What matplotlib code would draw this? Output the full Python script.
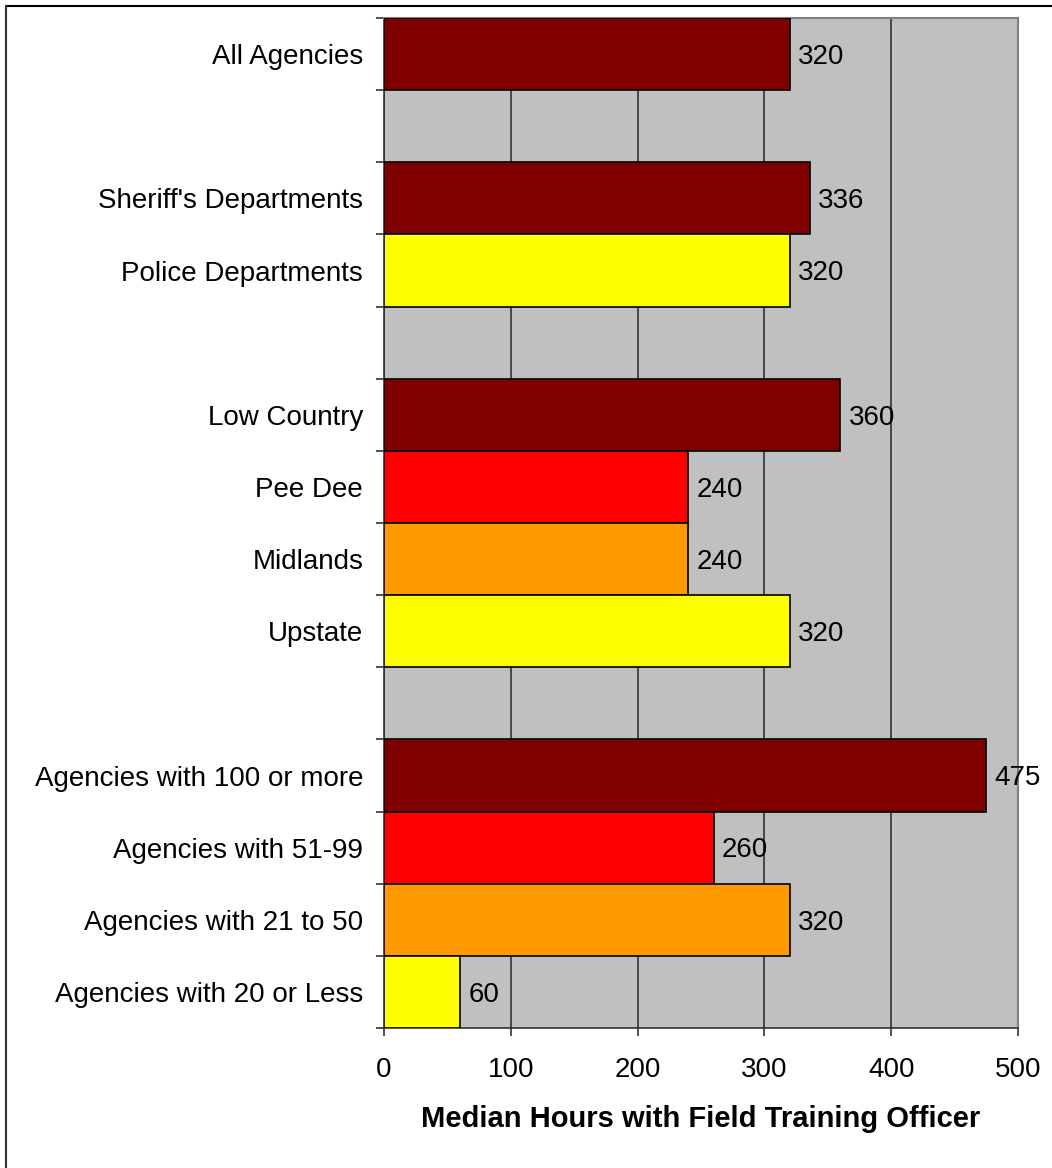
import matplotlib.pyplot as plt
import matplotlib.lines as mlines

plt.rcParams['font.family'] = ['Liberation Sans', 'DejaVu Sans']

# groups of rows, a blank row is left between groups
group_labels = [
    ["All Agencies"],
    ["Sheriff's Departments", "Police Departments"],
    ["Low Country", "Pee Dee", "Midlands", "Upstate"],
    ["Agencies with 100 or more", "Agencies with 51-99",
     "Agencies with 21 to 50", "Agencies with 20 or Less"],
]
group_values = [
    [320],
    [336, 320],
    [360, 240, 240, 320],
    [475, 260, 320, 60],
]
group_colors = [
    ["#800000"],
    ["#800000", "#FFFF00"],
    ["#800000", "#FF0000", "#FF9900", "#FFFF00"],
    ["#800000", "#FF0000", "#FF9900", "#FFFF00"],
]
x_ticks = [0, 100, 200, 300, 400, 500]
x_label = "Median Hours with Field Training Officer"

W, H = 1052, 1168
fig = plt.figure(figsize=(W / 100, H / 100), dpi=100)
ax = fig.add_axes([384 / W, (H - 1028) / H, (1018 - 384) / W, (1028 - 18) / H])
ax.set_facecolor("#C0C0C0")

labels, values, colors, rows = [], [], [], []
row = 0
for gl, gv, gc in zip(group_labels, group_values, group_colors):
    for l, v, c in zip(gl, gv, gc):
        labels.append(l)
        values.append(v)
        colors.append(c)
        rows.append(row)
        row += 1
    row += 1
n_rows = row - 1

ax.barh(rows, values, height=1.0, color=colors, edgecolor="black",
        linewidth=1.2, zorder=3)
for r, v in zip(rows, values):
    ax.annotate(str(v), (v, r), xytext=(6, -2), textcoords="offset points",
                ha="left", va="center", fontsize=20, zorder=5)

ax.set_xlim(0, 500)
ax.set_ylim(n_rows - 0.5, -0.5)
ax.set_xticks(x_ticks)
ax.set_xticklabels([str(t) for t in x_ticks], fontsize=20)
ax.tick_params(axis="x", direction="out", length=6, width=1.2, pad=15,
               color="#333333")
ax.xaxis.grid(True, color="#333333", linewidth=1.2, zorder=1)
ax.set_axisbelow(True)

# y ticks on row boundaries, labels at row centres
ax.set_yticks([i - 0.5 for i in range(n_rows + 1)])
ax.set_yticklabels([])
ax.set_yticks(rows, minor=True)
ax.set_yticklabels(labels, minor=True, fontsize=20)
ax.tick_params(axis="y", which="major", direction="out", length=6, width=1.2,
               color="#333333")
ax.tick_params(axis="y", which="minor", length=0, pad=15)

ax.set_xlabel(x_label, fontsize=21, fontweight="bold", labelpad=16)

for s in ["left", "bottom"]:
    ax.spines[s].set_color("#333333")
    ax.spines[s].set_linewidth(1.2)
for s in ["top", "right"]:
    ax.spines[s].set_color("#808080")
    ax.spines[s].set_linewidth(1.5)

# outer frame (only top and left edges visible)
fig.add_artist(mlines.Line2D([6 / W, 1], [1 - 6 / H, 1 - 6 / H],
                             color="black", linewidth=1.5))
fig.add_artist(mlines.Line2D([6 / W, 6 / W], [0, 1 - 6 / H],
                             color="#333333", linewidth=1.5))

fig.savefig("out.png", dpi=100)
